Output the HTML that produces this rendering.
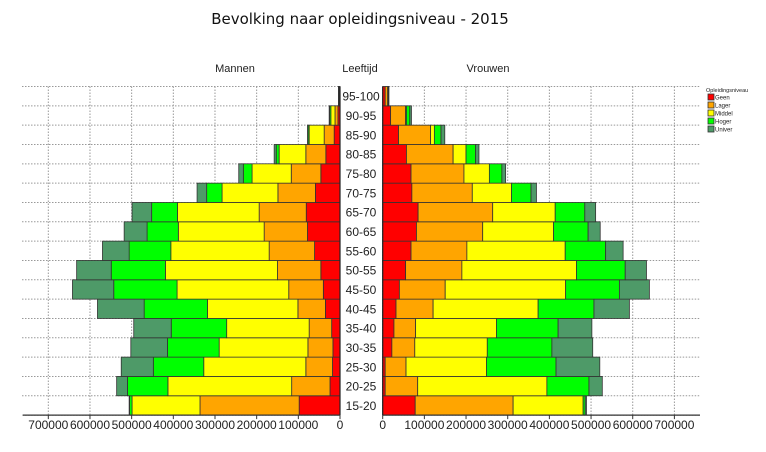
<!DOCTYPE html>
<html><head><meta charset="utf-8"><style>
html,body{margin:0;padding:0;background:#fff;}
svg{display:block;font-family:"Liberation Sans",Arial,sans-serif;}
</style></head><body>
<svg id="chart" width="766" height="452" viewBox="0 0 766 452" xmlns="http://www.w3.org/2000/svg">
<text x="360" y="24" text-anchor="middle" font-family="DejaVu Sans, sans-serif" font-size="15" fill="#111">Bevolking naar opleidingsniveau - 2015</text>
<text x="235" y="72" text-anchor="middle" font-size="11" fill="#222">Mannen</text>
<text x="360" y="72" text-anchor="middle" font-size="11" fill="#222">Leeftijd</text>
<text x="488" y="72" text-anchor="middle" font-size="11" fill="#222">Vrouwen</text>
<g id="grid"></g>
<g id="bars"></g>
<g id="axes"></g>
<g id="legend"></g>
</svg>
<script>
// values in thousands
const ages = ["15-20","20-25","25-30","30-35","35-40","40-45","45-50","50-55","55-60","60-65","65-70","70-75","75-80","80-85","85-90","90-95","95-100"];
const levels = ["Geen","Lager","Middel","Hoger","Univer"];
const menGeen   = [98,24,18,17,20,35,40,46,61,78,81,59,46,34,14,5,1.5];
const menLager  = [238,92,64,60,54,66,83,104,109,104,113,90,71,48,24,7,1];
const menMiddel = [163,297,245,213,198,217,268,269,236,206,196,134,94,64,36,10,0.8];
const menHoger  = [6,97,121,124,133,152,152,130,100,75,62,37,21,7,3,3,0.3];
const menUniver = [1,26,77,88,90,112,99,83,64,55,47,23,11,5,1,1,0.2];
const vrGeen   = [78,6,6,22,27,32,40,55,68,81,85,70,68,57,38,19,6];
const vrLager  = [235,78,50,55,52,89,110,135,134,159,179,145,127,112,77,36,6];
const vrMiddel = [168,310,193,174,194,252,289,275,236,170,150,94,61,31,9,2,1];
const vrHoger  = [5,101,167,155,148,134,129,117,97,83,71,47,30,23,16,8,1];
const vrUniver = [3,32,105,98,81,85,72,51,42,29,26,13,9,8,9,4,1];
const tickValues = [0,100,200,300,400,500,600,700];
const tickLabels = ["0","100000","200000","300000","400000","500000","600000","700000"];
const colors = ["#ff0000","#ffa500","#ffff00","#00ff00","#4e9a68"];

const NS="http://www.w3.org/2000/svg";
const L0=340, R0=382.7, PX=0.4167; // px per thousand
const TOP=86.5, RH=19.33, BOT=TOP+RH*ages.length;
const xL=v=>L0-v*PX, xR=v=>R0+v*PX;
const yRow=i=>BOT-(i+1)*RH;
function mk(tag,attrs,parent){const e=document.createElementNS(NS,tag);for(const k in attrs)e.setAttribute(k,attrs[k]);parent.appendChild(e);return e;}
const grid=document.getElementById('grid'),bars=document.getElementById('bars'),axes=document.getElementById('axes'),legend=document.getElementById('legend');
// grid
for(let i=0;i<=ages.length;i++){const y=TOP+i*RH;
 let g=mk('line',{x1:22,x2:L0,y1:y,y2:y,stroke:'#999','stroke-dasharray':'1.5,1.5','stroke-width':1},grid);
 
 
 g=mk('line',{x1:R0,x2:700,y1:y,y2:y,stroke:'#999','stroke-dasharray':'1.5,1.5','stroke-width':1},grid);
 
 
}
tickValues.forEach(v=>{
 let g=mk('line',{x1:xL(v),x2:xL(v),y1:TOP,y2:BOT,stroke:'#999','stroke-dasharray':'1.5,1.5'},grid);
 
 
 g=mk('line',{x1:xR(v),x2:xR(v),y1:TOP,y2:BOT,stroke:'#999','stroke-dasharray':'1.5,1.5'},grid);
 
 
});
const men=[menGeen,menLager,menMiddel,menHoger,menUniver], vr=[vrGeen,vrLager,vrMiddel,vrHoger,vrUniver];
ages.forEach((a,i)=>{
 const y=yRow(i);
 let cum=0;
 men.forEach((s,k)=>{const v=s[i];
  const r=mk('rect',{x:xL(cum+v),y:y,width:v*PX,height:RH,fill:colors[k],stroke:'#333','stroke-width':0.8},bars);
  
  
  cum+=v;});
 cum=0;
 vr.forEach((s,k)=>{const v=s[i];
  const r=mk('rect',{x:xR(cum),y:y,width:v*PX,height:RH,fill:colors[k],stroke:'#333','stroke-width':0.8},bars);
  
  
  cum+=v;});
 const t=mk('text',{x:361,y:y+RH/2+4.5,'text-anchor':'middle','font-size':12,fill:'#222'},axes);
 t.textContent=a;
 
 
});
// axes
let ax=mk('line',{x1:23,x2:L0,y1:BOT,y2:BOT,stroke:'#333','stroke-width':1.2},axes);


ax=mk('line',{x1:R0,x2:700,y1:BOT,y2:BOT,stroke:'#333','stroke-width':1.2},axes);


ax=mk('line',{x1:L0,x2:L0,y1:TOP,y2:BOT,stroke:'#222','stroke-width':1.2},axes);


ax=mk('line',{x1:R0,x2:R0,y1:TOP,y2:BOT,stroke:'#222','stroke-width':1.2},axes);


tickValues.forEach((v,j)=>{
 [[xL(v),'men'],[xR(v),'women']].forEach(([x,side])=>{
  const tk=mk('line',{x1:x,x2:x,y1:BOT,y2:BOT+4,stroke:'#333'},axes);
  
  
  const t=mk('text',{x:x,y:BOT+14,'text-anchor':'middle','font-size':12,fill:'#222'},axes);
  t.textContent=tickLabels[j];
  
  
 });
});
// legend
const lt=mk('text',{x:706,y:92,'font-size':5.5,fill:'#222'},legend);
lt.textContent='Opleidingsniveau';


levels.forEach((l,k)=>{
 const y=94+k*8;
 const r=mk('rect',{x:708,y:y,width:6,height:6,fill:colors[k],stroke:'#333','stroke-width':0.8},legend);
 
 
 const t=mk('text',{x:715,y:y+5.5,'font-size':6,fill:'#222'},legend);
 t.textContent=l;
 
 
});
</script>
</body></html>
